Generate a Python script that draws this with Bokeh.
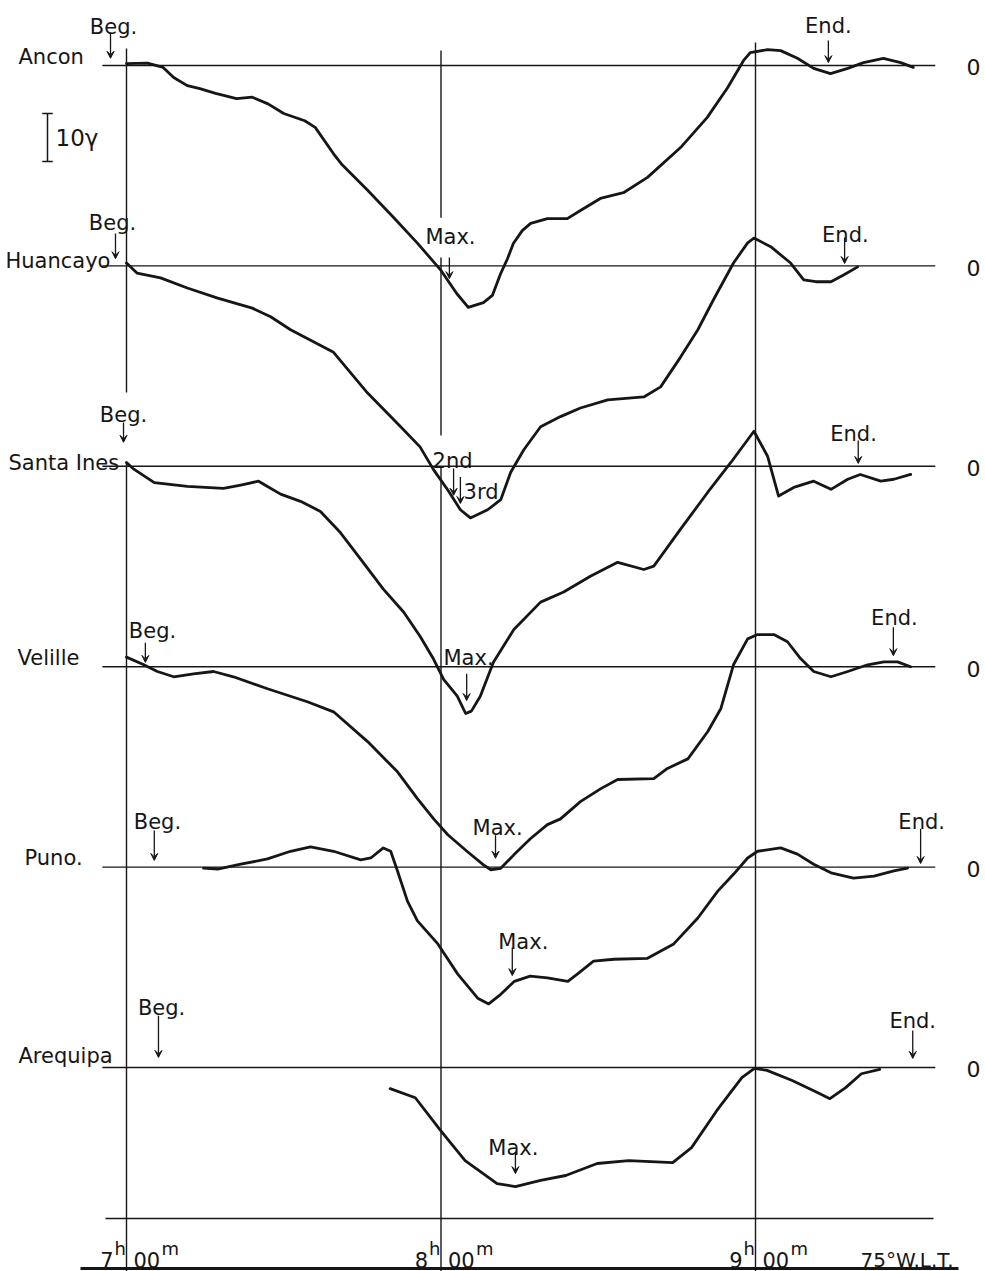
import numpy as np
from bokeh.plotting import figure
from bokeh.models import Range1d, Arrow, VeeHead, ColumnDataSource
from bokeh.core.properties import value
from bokeh.embed import file_html
from bokeh.resources import INLINE

# ---------------- DATA (minutes after 07h00m, 75°W.L.T. ; deviation in gamma) ----------------
stations = ["Ancon", "Huancayo", "Santa Ines", "Velille", "Puno.", "Arequipa"]

ancon_t = [0, 4, 7, 9, 11.6, 14, 17, 21, 24, 27, 30, 34, 36, 39.5, 41, 46, 51, 55.5, 60, 63,
           65.2, 68.1, 69.8, 71.4, 72.7, 73.8, 75.5, 77.1, 80.3, 84.1, 86.6, 90.4, 94.8, 99.4,
           105.7, 110.8, 114.7, 117.7, 119, 122.3, 124.8, 128, 131.1, 134.3, 137.6, 140.6,
           144.4, 147.7, 150.1]
ancon_v = [0.4, 0.5, -0.4, -2.5, -4.2, -4.8, -5.8, -6.9, -6.6, -8, -10, -11.5, -12.9, -18.4,
           -20.5, -26, -31.7, -37, -42.7, -47.5, -50.4, -49.4, -47.9, -43.3, -40.2, -37.1,
           -34.4, -32.9, -31.9, -31.9, -30.2, -27.7, -26.5, -23.3, -17.1, -10.8, -4.6, 1, 2.7,
           3.3, 3.1, 1.5, -0.6, -1.7, -0.6, 0.6, 1.5, 0.6, -0.4]

huancayo_t = [0, 2, 6.5, 11.6, 17.4, 24, 27.5, 31.3, 39.5, 46, 52.3, 56, 58.6, 61.3, 63.7, 65.6,
              68.9, 71.4, 73.3, 75.8, 79, 82.8, 86.6, 91.8, 98.7, 101.9, 105.7, 109, 112, 115.8,
              118.5, 119.7, 122.9, 126.7, 129.2, 131.5, 134.4, 136.8, 139.5]
huancayo_v = [0.6, -1.5, -2.5, -4.6, -6.7, -8.8, -10.6, -13.3, -18, -26.5, -33.5, -37.7, -42.5,
              -46.7, -50.8, -52.5, -50.8, -48.7, -43, -38.3, -33.5, -31.4, -29.6, -27.9, -27.3,
              -25.2, -19, -13.3, -7, 0.6, 4.8, 5.8, 4, 0.6, -2.9, -3.3, -3.3, -1.9, -0.2]

santaines_t = [0, 1.4, 5.3, 11.6, 18.5, 21.8, 25.2, 26.9, 29.4, 33.2, 37, 40.8, 44.7, 49, 52.9,
               56, 58.6, 60.5, 63.1, 64.7, 65.8, 67.5, 70, 73.9, 79, 83.4, 88.5, 93.7, 98.7,
               100.6, 105.7, 110.9, 115.3, 119.7, 122.3, 124.4, 127.3, 131.1, 134.4, 137.6, 140,
               143.9, 146.4, 149.6]
santaines_v = [0.8, -0.6, -3.4, -4.2, -4.6, -3.9, -3.1, -4.2, -5.8, -7.3, -9.4, -13.8, -19.4,
               -25.6, -30.4, -35.4, -40.2, -44.4, -47.9, -51.5, -51, -47.9, -40.8, -34, -28.3,
               -26.2, -22.9, -20, -21.5, -20.8, -13.1, -5.4, 0.8, 7.3, 2.1, -6.2, -4.4, -3.1,
               -4.8, -2.7, -1.7, -3.1, -2.7, -1.7]

velille_t = [0, 3.3, 5.9, 9, 12.8, 16.6, 20.4, 26.9, 34.5, 39.5, 46, 51.7, 55.5, 58.6, 61.3, 65,
             68.1, 69.5, 71.4, 73.9, 77.1, 80.3, 82.8, 86.6, 90.5, 93.7, 100.6, 103.2, 107.1,
             110.9, 113.4, 115.8, 118.5, 120.4, 123.5, 126.1, 128.6, 131.1, 134.4, 137.6,
             141.4, 144.5, 147.1, 149.6]
velille_v = [2, 0.4, -1, -2.1, -1.5, -1, -2.1, -4.6, -7.3, -9.4, -15.6, -21.9, -27.5, -31.7,
             -35, -38.5, -41.3, -42.3, -42, -39.2, -35.8, -32.9, -31.7, -28.1, -25.4, -23.5,
             -23.3, -21.2, -19.2, -13.5, -8.7, 0.4, 5.8, 6.7, 6.7, 5.2, 1.7, -1, -2.1, -1, 0.4,
             1, 1, 0]

puno_t = [14.7, 17.4, 21.8, 26.9, 31.3, 35.1, 39.5, 44.7, 46.6, 49, 50.4, 51.7, 53.6, 55.5,
          59.4, 63.2, 67, 69.1, 71.4, 74, 77, 80.3, 84.2, 86, 89.1, 93, 99.4, 104.4, 109, 112.8,
          115.8, 118.5, 120.4, 124.8, 128, 131.1, 134.4, 138.7, 142.6, 146.4, 149]
puno_v = [-0.2, -0.4, 0.6, 1.7, 3.3, 4.2, 3.3, 1.5, 1.9, 4, 3.3, -0.8, -7.1, -11.2, -16, -22.3,
          -27.3, -28.5, -26.5, -23.8, -22.7, -23.1, -23.8, -22.3, -19.6, -19.2, -19, -16,
          -10.6, -5, -1.5, 1.9, 3.3, 4, 2.7, 0.6, -1.2, -2.3, -1.9, -0.8, -0.2]

arequipa_t = [50.3, 55.1, 59.9, 64.6, 70.7, 74.2, 79, 83.8, 89.8, 95.8, 104.2, 107.8, 112.6,
              117.4, 119.8, 122.2, 127, 131.8, 134.2, 137.2, 140.2, 143.7]
arequipa_v = [-4.4, -6.3, -13.1, -19.4, -24.2, -24.8, -23.5, -22.5, -20, -19.4, -19.8, -16.7,
              -9, -2.1, -0.2, -0.6, -2.7, -5.2, -6.5, -4.2, -1.3, -0.4]

# event times (minutes after 07h00m)
beg_times = [-3.05, -2.1, -0.57, 3.6, 5.3, 6.1]
end_times = [133.9, 137.0, 139.6, 146.3, 151.5, 150.0]
max_labels = ["Max.", "2nd", "3rd", "Max.", "Max.", "Max.", "Max."]
max_station = [0, 1, 1, 2, 3, 4, 5]
max_times = [61.6, 62.4, 63.7, 64.9, 70.4, 73.6, 74.2]

hour_ticks = [0, 60, 120]
hour_labels = ["7", "8", "9"]
scale_gamma = 10

series_t = [ancon_t, huancayo_t, santaines_t, velille_t, puno_t, arequipa_t]
series_v = [ancon_v, huancayo_v, santaines_v, velille_v, puno_v, arequipa_v]

# ---------------- LAYOUT ----------------
PX_MIN = 5.2417      # px per minute
PX_G = 4.8           # px per gamma
SPACING = 41.75      # gamma between station baselines
W, H = 985, 1271
X7, Y0 = 126, 65     # canvas position of 7h00m line and of the first baseline
x0 = -X7 / PX_MIN
y1 = Y0 / PX_G
x_rng = Range1d(x0, x0 + W / PX_MIN)
y_rng = Range1d(y1 - H / PX_G, y1)
offsets = [-i * SPACING for i in range(len(stations))]


def tx_(px):
    return (px - X7) / PX_MIN


def ty_(py):
    return (Y0 - py) / PX_G


INK = "#161616"
FONT = value("DejaVu Sans")

p = figure(width=W, height=H, x_range=x_rng, y_range=y_rng, x_axis_type=None,
           y_axis_type=None, output_backend="svg", toolbar_location=None, min_border=0,
           background_fill_color="white", border_fill_color="white")
p.outline_line_color = None
p.grid.visible = False

# baselines
base_x0, base_x1 = -4.6, 154.3
p.segment(x0=[base_x0] * 6, x1=[base_x1] * 6, y0=offsets, y1=offsets,
          line_color=INK, line_width=1.4)
# bottom time axis line and frame foot
p.segment(x0=[tx_(105), tx_(80)], x1=[tx_(933), tx_(958)], y0=[ty_(1218), ty_(1268)],
          y1=[ty_(1218), ty_(1268)], line_color=INK, line_width=[1.4, 3.0])

# hour lines (with gaps where lettering interrupts them)
bottom = y_rng.start
tops = [3.54, 3.1, 4.8]
vx0, vx1, vy0, vy1 = [], [], [], []
gaps = {0: [(-68.1, -82.7)], 60: [(-31.7, -40.0), (-77.1, -83.6)], 120: []}
for hx, top in zip(hour_ticks, tops):
    cur = top
    for g_top, g_bot in gaps[hx]:
        vx0.append(hx); vx1.append(hx); vy0.append(cur); vy1.append(g_top)
        cur = g_bot
    vx0.append(hx); vx1.append(hx); vy0.append(cur); vy1.append(bottom)
p.segment(x0=vx0, x1=vx1, y0=vy0, y1=vy1, line_color=INK, line_width=1.4)

# curves
for t, v, off in zip(series_t, series_v, offsets):
    p.line(t, np.array(v) + off, line_color=INK, line_width=2.8,
           line_join="round", line_cap="round")

# ---------------- annotations: arrows and words ----------------
beg_top = [6.9, 6.75, 9.1, 5.0, 7.6, 10.8]
beg_tip = [1.5, 1.5, 5.0, 0.9, 1.4, 2.1]
beg_dt = [0.57, -0.57, 0.0, 1.36, 0.6, 0.6]
beg_base = [8.1, 9.0, 10.6, 7.5, 9.3, 12.3]

end_top = [5.2, 5.9, 5.4, 8.2, 8.0, 7.7]
end_tip = [0.6, 0.5, 0.6, 2.3, 0.75, 1.9]
end_dt = [0.0, 0.14, -0.9, 0.2, 0.2, 0.0]
end_base = [8.3, 6.5, 6.8, 10.25, 9.3, 9.6]

max_top = [-40.0, -42.2, -44.0, -43.2, -35.1, -16.75, -17.7]
max_tip = [-44.4, -47.8, -49.5, -48.8, -39.9, -22.6, -22.1]
max_dt = [0.2, -0.2, 0.6, 0.35, 0.4, 2.1, -0.4]
max_base = [-35.8, -40.7, -47.2, -40.0, -33.5, -15.7, -16.7]
max_align = ["center", "center", "left", "center", "center", "center", "center"]

ax0, ay0, ax1, ay1 = [], [], [], []
tx, ty, tt, ta = [], [], [], []
for i in range(6):
    off = offsets[i]
    ax0.append(beg_times[i]); ax1.append(beg_times[i])
    ay0.append(beg_top[i] + off); ay1.append(beg_tip[i] + off)
    tx.append(beg_times[i] + beg_dt[i]); ty.append(beg_base[i] + off)
    tt.append("Beg."); ta.append("center")
    ax0.append(end_times[i]); ax1.append(end_times[i])
    ay0.append(end_top[i] + off); ay1.append(end_tip[i] + off)
    tx.append(end_times[i] + end_dt[i]); ty.append(end_base[i] + off)
    tt.append("End."); ta.append("center")
for k in range(len(max_times)):
    off = offsets[max_station[k]]
    ax0.append(max_times[k]); ax1.append(max_times[k])
    ay0.append(max_top[k] + off); ay1.append(max_tip[k] + off)
    tx.append(max_times[k] + max_dt[k]); ty.append(max_base[k] + off)
    tt.append(max_labels[k]); ta.append(max_align[k])

arrow_src = ColumnDataSource(dict(x0=ax0, y0=ay0, x1=ax1, y1=ay1))
p.add_layout(Arrow(end=VeeHead(size=7, line_color=INK, fill_color=INK, line_width=1),
                   x_start="x0", y_start="y0", x_end="x1", y_end="y1",
                   source=arrow_src, line_color=INK, line_width=1.3))
p.text(x="x", y="y", text="text", text_align="align",
       source=ColumnDataSource(dict(x=tx, y=ty, text=tt, align=ta)),
       text_font=FONT, text_font_size=value("21px"), text_baseline="alphabetic",
       text_color=INK)

# station names
name_x = [tx_(18), tx_(5), tx_(8), tx_(17), tx_(24), tx_(18)]
name_lvl = [1.67, 1.1, 0.6, 1.9, 2.0, 2.3]
p.text(x=name_x, y=[l + o for l, o in zip(name_lvl, offsets)], text=stations,
       text_font=FONT, text_font_size=value("21px"), text_align="left",
       text_baseline="alphabetic", text_color=INK)

# zero marks at the right
p.text(x=[tx_(973)] * 6, y=[o - 0.4 for o in offsets], text=["0"] * 6,
       text_font=FONT, text_font_size=value("22px"), text_align="center",
       text_baseline="middle", text_color=INK)

# scale bar 10 gamma
sb_x = tx_(47)
sb_top, sb_bot = -10.0, -10.0 - scale_gamma
p.segment(x0=[sb_x, sb_x - 1.0, sb_x - 1.0], x1=[sb_x, sb_x + 1.0, sb_x + 1.0],
          y0=[sb_top, sb_top, sb_bot], y1=[sb_bot, sb_top, sb_bot],
          line_color=INK, line_width=1.5)
p.text(x=[tx_(55)], y=[(sb_top + sb_bot) / 2], text=[f"{scale_gamma}γ"],
       text_font=FONT, text_font_size=value("23px"), text_align="left",
       text_baseline="middle", text_color=INK)

# hour labels  N^h 00^m
dig_y = ty_(1259)
sup_y = ty_(1248)
p.text(x=[h - 13 / PX_MIN for h in hour_ticks], y=[dig_y] * 3, text=hour_labels,
       text_font=FONT, text_font_size=value("21px"), text_align="right",
       text_baseline="alphabetic", text_color=INK)
p.text(x=[h - 12 / PX_MIN for h in hour_ticks], y=[sup_y] * 3, text=["h"] * 3,
       text_font=FONT, text_font_size=value("18px"), text_align="left",
       text_baseline="alphabetic", text_color=INK)
p.text(x=[h + 7 / PX_MIN for h in hour_ticks], y=[dig_y] * 3, text=["00"] * 3,
       text_font=FONT, text_font_size=value("21px"), text_align="left",
       text_baseline="alphabetic", text_color=INK)
p.text(x=[h + 35 / PX_MIN for h in hour_ticks], y=[sup_y] * 3, text=["m"] * 3,
       text_font=FONT, text_font_size=value("18px"), text_align="left",
       text_baseline="alphabetic", text_color=INK)
p.text(x=[tx_(860)], y=[dig_y], text=["75°W.L.T."],
       text_font=FONT, text_font_size=value("20px"), text_align="left",
       text_baseline="alphabetic", text_color=INK)

open("out.html", "w").write(file_html(p, INLINE))
